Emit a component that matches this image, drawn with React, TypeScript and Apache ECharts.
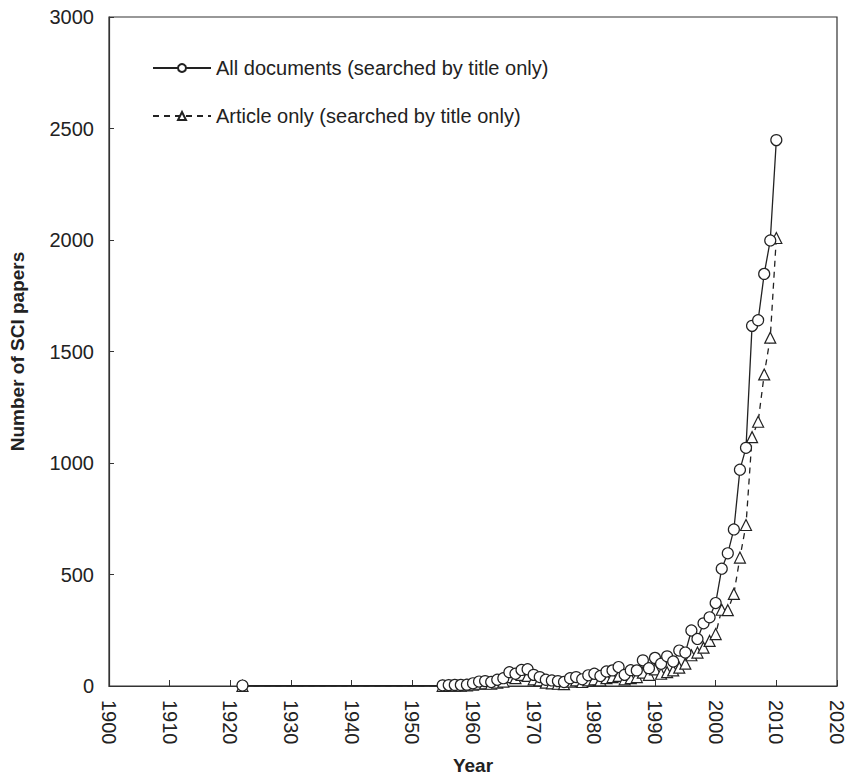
import React, { useEffect, useRef } from "react";
import * as echarts from "echarts";

const years: number[] = [
  1922,
  1955, 1956, 1957, 1958, 1959, 1960, 1961, 1962, 1963, 1964,
  1965, 1966, 1967, 1968, 1969, 1970, 1971, 1972, 1973, 1974,
  1975, 1976, 1977, 1978, 1979, 1980, 1981, 1982, 1983, 1984,
  1985, 1986, 1987, 1988, 1989, 1990, 1991, 1992, 1993, 1994,
  1995, 1996, 1997, 1998, 1999, 2000, 2001, 2002, 2003, 2004,
  2005, 2006, 2007, 2008, 2009, 2010,
];

const allDocs: number[] = [
  2,
  3, 4, 5, 5, 6, 12, 20, 22, 18, 28,
  35, 62, 55, 72, 75, 50, 40, 28, 25, 22,
  18, 35, 40, 30, 48, 55, 45, 65, 70, 85,
  50, 71, 70, 115, 80, 126, 100, 133, 110, 159,
  150, 249, 211, 281, 308, 372, 526, 595, 702, 970,
  1068, 1615, 1640, 1848, 1998, 2448,
];

const articles: number[] = [
  1,
  1, 2, 2, 2, 3, 6, 10, 12, 10, 15,
  20, 40, 35, 50, 45, 30, 25, 15, 12, 10,
  8, 20, 25, 18, 25, 30, 25, 35, 40, 45,
  30, 35, 40, 60, 50, 75, 55, 62, 70, 82,
  100, 138, 150, 172, 202, 233, 342, 340, 413, 576,
  722, 1116, 1185, 1397, 1562, 2009,
];

const seriesNames: string[] = [
  "All documents (searched by title only)",
  "Article only (searched by title only)",
];

const ink = "#222";
const font = "'Liberation Sans', Arial, sans-serif";

export default function App() {
  const ref = useRef<HTMLDivElement>(null);

  useEffect(() => {
    if (!ref.current) return;
    const chart = echarts.init(ref.current, null, { renderer: "svg" });
    chart.setOption({
      animation: false,
      backgroundColor: "#fff",
      textStyle: { fontFamily: font, color: ink },
      grid: {
        left: 107,
        top: 17,
        right: 10,
        bottom: 91,
        show: true,
        borderColor: "#333",
        borderWidth: 1.2,
      },
      legend: {
        orient: "vertical",
        left: 152,
        top: 58,
        padding: 0,
        itemGap: 28,
        itemWidth: 58,
        itemHeight: 10,
        textStyle: { fontSize: 20, color: ink, fontFamily: font },
        data: seriesNames,
      },
      xAxis: {
        type: "value",
        min: 1900,
        max: 2020,
        interval: 10,
        name: "Year",
        nameLocation: "middle",
        nameGap: 70,
        nameTextStyle: { fontSize: 19, fontWeight: "bold", color: ink, fontFamily: font },
        axisLine: { onZero: false, lineStyle: { color: "#333", width: 1.2 } },
        axisTick: { inside: true, length: 6, lineStyle: { color: "#333" } },
        axisLabel: {
          rotate: -90,
          fontSize: 20,
          color: ink,
          margin: 14,
          fontFamily: font,
          formatter: (v: number) => String(v),
        },
        splitLine: { show: false },
      },
      yAxis: {
        type: "value",
        min: 0,
        max: 3000,
        interval: 500,
        name: "Number of SCI papers",
        nameLocation: "middle",
        nameGap: 82,
        nameTextStyle: { fontSize: 19, fontWeight: "bold", color: ink, fontFamily: font },
        axisLine: { show: true, lineStyle: { color: "#333", width: 1.2 } },
        axisTick: { show: true, inside: true, length: 5, lineStyle: { color: "#333" } },
        axisLabel: {
          fontSize: 20,
          color: ink,
          margin: 15,
          fontFamily: font,
          formatter: (v: number) => String(v),
        },
        splitLine: { show: false },
      },
      series: [
        {
          name: seriesNames[0],
          type: "line",
          data: years.map((y, i) => [y, allDocs[i]]),
          symbol: "circle",
          symbolSize: 11,
          showAllSymbol: true,
          itemStyle: { color: "#fff", borderColor: ink, borderWidth: 1.2 },
          lineStyle: { color: ink, width: 1.3, type: "solid" },
          z: 3,
        },
        {
          name: seriesNames[1],
          type: "line",
          data: years.map((y, i) => [y, articles[i]]),
          symbol: "triangle",
          symbolSize: 11,
          showAllSymbol: true,
          itemStyle: { color: "#fff", borderColor: ink, borderWidth: 1.2 },
          lineStyle: { color: ink, width: 1.3, type: [6, 5] },
          z: 2,
        },
      ],
    });
    return () => chart.dispose();
  }, []);

  return (
    <div
      ref={ref}
      style={{ position: "fixed", left: 0, top: 0, width: 847, height: 780 }}
    />
  );
}
